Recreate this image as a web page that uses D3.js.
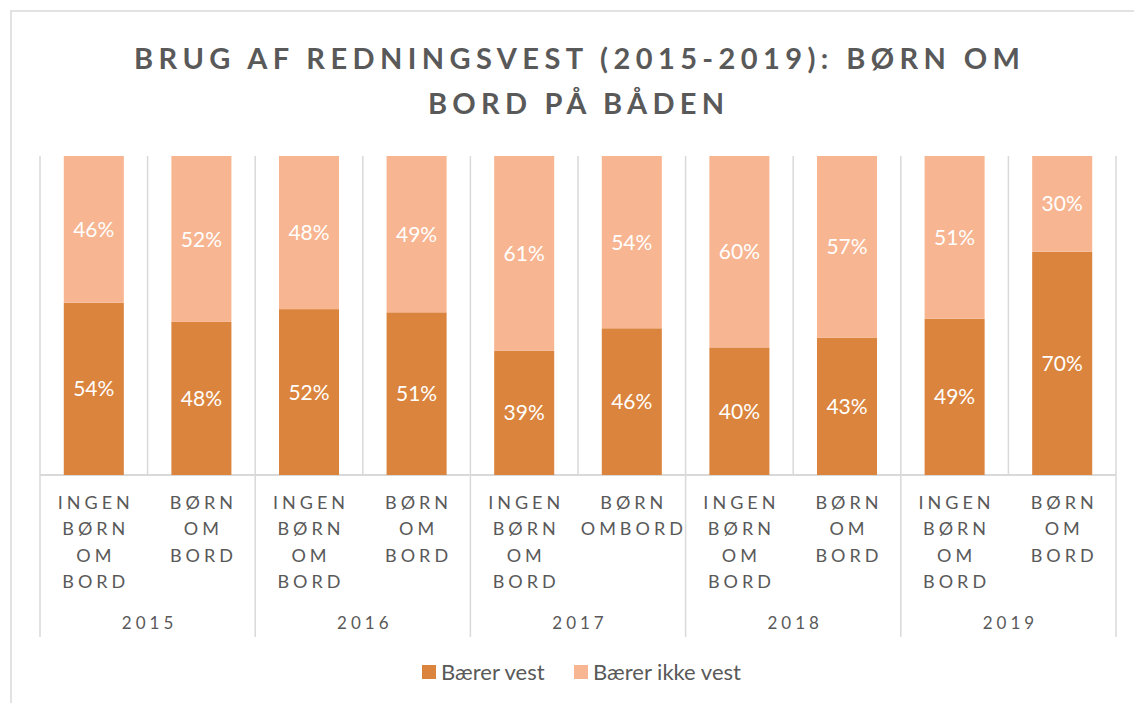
<!DOCTYPE html>
<html>
<head>
<meta charset="utf-8">
<script src="https://cdn.jsdelivr.net/npm/d3@7"></script>
<style>
  body { margin: 0; background: #fff; }
  svg text { font-family: Lato, "Open Sans", sans-serif; }
</style>
</head>
<body>
<div id="vis"></div>
<script>
// data
const years = ["2015", "2016", "2017", "2018", "2019"];
const groups = [
  ["Ingen børn om bord", "Børn om bord"],
  ["Ingen børn om bord", "Børn om bord"],
  ["Ingen børn om bord", "Børn ombord"],
  ["Ingen børn om bord", "Børn om bord"],
  ["Ingen børn om bord", "Børn om bord"]
];
const wearsVest    = [0.54, 0.48, 0.52, 0.51, 0.39, 0.46, 0.40, 0.43, 0.49, 0.70];
const noVest       = [0.46, 0.52, 0.48, 0.49, 0.61, 0.54, 0.60, 0.57, 0.51, 0.30];
const seriesNames  = ["Bærer vest", "Bærer ikke vest"];
const titleLines   = ["BRUG AF REDNINGSVEST (2015-2019): BØRN OM", "BORD PÅ BÅDEN"];

const FRAME_WIDTH = 1134;
const FRAME_HEIGHT = 703;
const PLOT = {left: 40, right: 1116, top: 156, bottom: 475};
const COLORS = ["#db843d", "#f8b591"];
const GRID = "#d9d9d9";
const TEXT = "#595959";

// flatten categories
const cats = [];
groups.forEach((g, gi) => g.forEach((c, ci) => cats.push({year: years[gi], label: c, idx: cats.length})));

const svg = d3.select("#vis").append("svg")
  .attr("width", FRAME_WIDTH)
  .attr("height", FRAME_HEIGHT);

// chart border
svg.append("rect")
  .attr("x", 11).attr("y", 11)
  .attr("width", FRAME_WIDTH + 20).attr("height", FRAME_HEIGHT + 20)
  .attr("fill", "none").attr("stroke", GRID).attr("stroke-width", 1.5);

// title
svg.selectAll(".title")
  .data(titleLines)
  .enter().append("text")
    .attr("class", "title")
    .attr("x", (d, i) => i == 0 ? 134 : 428)
    .attr("y", (d, i) => 69 + i * 45)
    .attr("textLength", (d, i) => i == 0 ? 886 : 296)
    .attr("lengthAdjust", "spacing")
    .attr("font-size", "29px")
    .attr("font-weight", "bold")
    .attr("fill", TEXT)
    .text(d => d);

// scales
const X = d3.scaleBand()
  .domain(cats.map(d => d.idx))
  .range([PLOT.left, PLOT.right])
  .paddingInner(0.442)
  .paddingOuter(0.221);
const STEP = X.step();

const Y = d3.scaleLinear()
  .domain([0, 1])
  .range([PLOT.bottom, PLOT.top]);

// vertical gridlines between categories
const bounds = d3.range(cats.length + 1).map(i => PLOT.left + i * STEP);
svg.selectAll(".grid")
  .data(bounds)
  .enter().append("line")
    .attr("x1", d => d).attr("x2", d => d)
    .attr("y1", PLOT.top)
    .attr("y2", (d, i) => i % 2 == 0 ? 637 : PLOT.bottom)
    .attr("stroke", GRID).attr("stroke-width", 1.5);

// baseline
svg.append("line")
  .attr("x1", PLOT.left).attr("x2", PLOT.right)
  .attr("y1", PLOT.bottom).attr("y2", PLOT.bottom)
  .attr("stroke", GRID).attr("stroke-width", 2);

// stacked bars
const stackData = cats.map((c, i) => ({idx: c.idx, a: wearsVest[i], b: noVest[i]}));
const stacked = d3.stack().keys(["a", "b"])(stackData);

const layers = svg.selectAll(".layer")
  .data(stacked)
  .enter().append("g")
    .attr("fill", (d, i) => COLORS[i]);

layers.selectAll("rect")
  .data(d => d)
  .enter().append("rect")
    .attr("x", d => X(d.data.idx))
    .attr("y", d => Y(d[1]))
    .attr("width", X.bandwidth())
    .attr("height", d => Y(d[0]) - Y(d[1]));

layers.selectAll(".val")
  .data(d => d)
  .enter().append("text")
    .attr("x", d => X(d.data.idx) + X.bandwidth() / 2)
    .attr("y", d => (Y(d[0]) + Y(d[1])) / 2)
    .attr("dy", "0.36em")
    .attr("text-anchor", "middle")
    .attr("font-size", "21px")
    .attr("fill", "#fff")
    .text(d => Math.round((d[1] - d[0]) * 100) + "%");

// category labels, one word per line
const catLabels = svg.selectAll(".cat")
  .data(cats)
  .enter().append("text")
    .attr("text-anchor", "middle")
    .attr("font-size", "18px")
    .attr("letter-spacing", "4px")
    .attr("fill", TEXT);

catLabels.selectAll("tspan")
  .data(d => d.label.toUpperCase().split(" ").map(w => ({w: w, idx: d.idx})))
  .enter().append("tspan")
    .attr("x", d => X(d.idx) + X.bandwidth() / 2 + 2)
    .attr("y", (d, i) => 509 + i * 26.3)
    .text(d => d.w);

// year labels
svg.selectAll(".year")
  .data(years)
  .enter().append("text")
    .attr("x", (d, i) => PLOT.left + (i * 2 + 1) * STEP + 2)
    .attr("y", 629)
    .attr("text-anchor", "middle")
    .attr("font-size", "17px")
    .attr("letter-spacing", "4px")
    .attr("fill", TEXT)
    .text(d => d);

// legend
const legendX = [422, 574];
const legend = svg.selectAll(".legend")
  .data(seriesNames)
  .enter().append("g")
    .attr("transform", (d, i) => "translate(" + legendX[i] + ",665)");
legend.append("rect")
  .attr("width", 14).attr("height", 14)
  .attr("fill", (d, i) => COLORS[i]);
legend.append("text")
  .attr("x", 19).attr("y", 15)
  .attr("font-size", "22px")
  .attr("fill", TEXT)
  .text(d => d);
</script>
</body>
</html>
